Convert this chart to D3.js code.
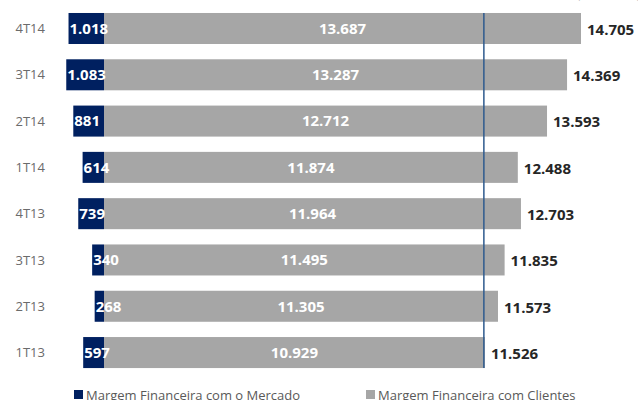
<!DOCTYPE html>
<html>
<head>
<meta charset="utf-8">
<script src="https://cdn.jsdelivr.net/npm/d3@7"></script>
<style>
  html, body { margin: 0; padding: 0; background: #fff; }
  svg { display: block; font-family: "Open Sans", "Noto Sans", sans-serif; }
</style>
</head>
<body>
<svg id="chart" width="638" height="400"></svg>
<script>
const categories = ["4T14", "3T14", "2T14", "1T14", "4T13", "3T13", "2T13", "1T13"];
const mercado = [1018, 1083, 881, 614, 739, 340, 268, 597];
const clientes = [13687, 13287, 12712, 11874, 11964, 11495, 11305, 10929];
const totais = [14705, 14369, 13593, 12488, 12703, 11835, 11573, 11526];
const seriesNames = ["Margem Financeira com o Mercado", "Margem Financeira com Clientes"];
const refLineValue = 10900;
const unitLabel = "(R$ milhões)";

const fmt = v => d3.format(",")(v).replace(/,/g, ".");
const NAVY = "#002060", GRAY = "#a6a6a6";

const svg = d3.select("#chart");

const x = d3.scaleLinear().domain([0, 13687]).range([104, 581]);
const y = d3.scaleBand().domain(categories).range([5.35, 375.7])
  .paddingInner(0.33).paddingOuter(0.165);

const rows = categories.map((c, i) => ({c, m: mercado[i], cl: clientes[i], t: totais[i]}));

// unit label (mostly cropped at top, as in the reference)
svg.append("text").attr("x", 640).attr("y", -1).attr("text-anchor", "end")
  .attr("font-size", 11).attr("fill", "#7f7f7f").text(unitLabel);

// category axis labels
svg.append("g").selectAll("text").data(rows).join("text")
  .attr("x", 45).attr("y", d => y(d.c) + y.bandwidth() / 2)
  .attr("dy", "0.35em").attr("text-anchor", "end")
  .attr("font-size", 13).attr("fill", "#6b6b6b").text(d => d.c);

// gray bars (clientes)
svg.append("g").selectAll("rect").data(rows).join("rect")
  .attr("x", x(0)).attr("y", d => y(d.c))
  .attr("width", d => x(d.cl) - x(0)).attr("height", y.bandwidth())
  .attr("fill", GRAY);

// navy bars (mercado), extending left
svg.append("g").selectAll("rect").data(rows).join("rect")
  .attr("x", d => x(-d.m)).attr("y", d => y(d.c))
  .attr("width", d => x(0) - x(-d.m)).attr("height", y.bandwidth())
  .attr("fill", NAVY);

// reference line
svg.append("line")
  .attr("x1", x(refLineValue)).attr("x2", x(refLineValue))
  .attr("y1", y(categories[0])).attr("y2", y(categories[categories.length - 1]) + y.bandwidth())
  .attr("stroke", "#2e5a8e").attr("stroke-width", 1.5);

// clientes values
svg.append("g").selectAll("text").data(rows).join("text")
  .attr("x", d => (x(0) + x(d.cl)) / 2).attr("y", d => y(d.c) + y.bandwidth() / 2)
  .attr("dy", "0.36em").attr("text-anchor", "middle")
  .attr("font-size", 15).attr("font-weight", "bold").attr("fill", "#fff")
  .text(d => fmt(d.cl));

// mercado values
svg.append("g").selectAll("text").data(rows).join("text")
  .attr("x", d => x(-d.m) + 1).attr("y", d => y(d.c) + y.bandwidth() / 2)
  .attr("dy", "0.36em").attr("text-anchor", "start")
  .attr("font-size", 15).attr("font-weight", "bold").attr("fill", "#fff")
  .text(d => fmt(d.m));

// totals
svg.append("g").selectAll("text").data(rows).join("text")
  .attr("x", d => x(d.cl) + 6).attr("y", d => y(d.c) + y.bandwidth() / 2 + 1)
  .attr("dy", "0.36em").attr("text-anchor", "start")
  .attr("font-size", 15).attr("font-weight", "bold").attr("fill", "#262626")
  .text(d => fmt(d.t));

// legend
const legend = [
  {name: seriesNames[0], color: NAVY, x: 74},
  {name: seriesNames[1], color: GRAY, x: 366}
];
const lg = svg.append("g").selectAll("g").data(legend).join("g");
lg.append("rect").attr("x", d => d.x).attr("y", 390).attr("width", 9).attr("height", 9).attr("fill", d => d.color);
lg.append("text").attr("x", d => d.x + 12).attr("y", 399.5)
  .attr("font-size", 13).attr("fill", "#595959").text(d => d.name);
</script>
</body>
</html>
